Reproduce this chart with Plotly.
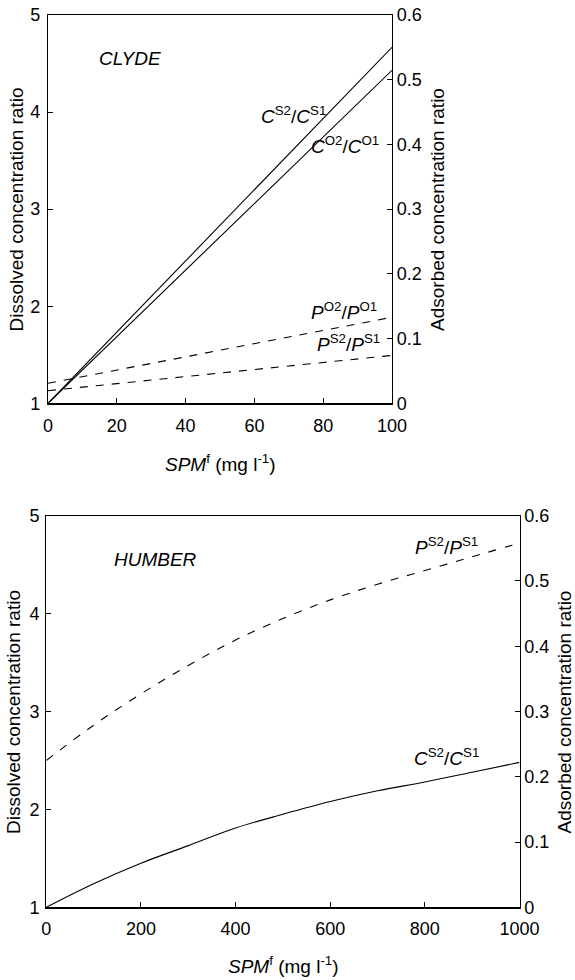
import plotly.graph_objects as go

W, H = 575, 980

# ---- CLYDE (top) data ----
clyde_x = [0, 100]
clyde_cs = [1.0, 4.667]        # C^S2/C^S1 (dissolved, left axis)
clyde_co = [1.0, 4.43]         # C^O2/C^O1 (dissolved, left axis)
clyde_po = [0.031, 0.133]      # P^O2/P^O1 (adsorbed, right axis)
clyde_ps = [0.0195, 0.074]     # P^S2/P^S1 (adsorbed, right axis)

# ---- HUMBER (bottom) data ----
humber_x = [0, 100, 200, 300, 400, 500, 600, 700, 800, 900, 1000]
humber_cs = [1.0, 1.24, 1.45, 1.63, 1.81, 1.95, 2.08, 2.19, 2.28, 2.38, 2.48]
humber_ps = [0.225, 0.279, 0.327, 0.3705, 0.4095, 0.4425, 0.471, 0.495, 0.516, 0.537, 0.558]

FONT = "Liberation Sans, Arial, Helvetica, sans-serif"
INK = "#000000"

def px_x(p):
    return p / W

def px_y(p):
    return 1 - p / H

fig = go.Figure()

line_solid = dict(color=INK, width=1.1)
line_dash = dict(color=INK, width=1.1, dash="8px,8px")

fig.add_trace(go.Scatter(x=clyde_x, y=clyde_cs, mode="lines", line=line_solid, xaxis="x", yaxis="y"))
fig.add_trace(go.Scatter(x=clyde_x, y=clyde_co, mode="lines", line=line_solid, xaxis="x", yaxis="y"))
fig.add_trace(go.Scatter(x=clyde_x, y=clyde_po, mode="lines", line=line_dash, xaxis="x", yaxis="y2"))
fig.add_trace(go.Scatter(x=clyde_x, y=clyde_ps, mode="lines", line=line_dash, xaxis="x", yaxis="y2"))

fig.add_trace(go.Scatter(x=humber_x, y=humber_cs, mode="lines", line=dict(color=INK, width=1.1, shape="spline"), xaxis="x2", yaxis="y3"))
fig.add_trace(go.Scatter(x=humber_x, y=humber_ps, mode="lines", line=dict(color=INK, width=1.1, dash="8px,9px", shape="spline"), xaxis="x2", yaxis="y4"))

tickfont = dict(family=FONT, size=18, color=INK)
common = dict(showgrid=False, zeroline=False, showline=True, linecolor=INK, linewidth=1.2,
              ticks="inside", ticklen=5, tickcolor=INK, tickwidth=1, tickfont=tickfont,
              automargin=False)

top_x_dom = [px_x(48), px_x(392)]
top_y_dom = [px_y(403.3), px_y(15)]
bot_x_dom = [px_x(46.3), px_x(519.5)]
bot_y_dom = [px_y(907.3), px_y(515.7)]

fig.update_layout(
    width=W, height=H,
    margin=dict(l=0, r=0, t=0, b=0, autoexpand=False),
    paper_bgcolor="white", plot_bgcolor="white",
    showlegend=False,
    hovermode=False,
    xaxis=dict(domain=top_x_dom, range=[0, 100], dtick=20, anchor="y", mirror=True, ticklabelstandoff=6, **common),
    yaxis=dict(domain=top_y_dom, range=[1, 5], dtick=1, anchor="x", ticklabelstandoff=3, **common),
    yaxis2=dict(range=[0, 0.6], dtick=0.1, overlaying="y", side="right", anchor="x", **common),
    xaxis2=dict(domain=bot_x_dom, range=[0, 1000], dtick=200, anchor="y3", mirror=True, ticklabelstandoff=5, **common),
    yaxis3=dict(domain=bot_y_dom, range=[1, 5], dtick=1, anchor="x2", ticklabelstandoff=2, **common),
    yaxis4=dict(range=[0, 0.6], dtick=0.1, overlaying="y3", side="right", anchor="x2", **common),
)

ann_font = dict(family=FONT, size=19, color=INK)
title_font = dict(family=FONT, size=19, color=INK)

annotations = [
    # top plot labels
    dict(x=14.3, y=4.547, xref="x", yref="y", text="<i>CLYDE</i>", xanchor="left", font=ann_font),
    dict(x=71.4, y=3.97, xref="x", yref="y", text="<i>C</i><sup>S2</sup>/<i>C</i><sup>S1</sup>", font=ann_font),
    dict(x=86.4, y=3.66, xref="x", yref="y", text="<i>C</i><sup>O2</sup>/<i>C</i><sup>O1</sup>", font=ann_font),
    dict(x=86.0, y=1.95, xref="x", yref="y", text="<i>P</i><sup>O2</sup>/<i>P</i><sup>O1</sup>", font=ann_font),
    dict(x=87.4, y=1.62, xref="x", yref="y", text="<i>P</i><sup>S2</sup>/<i>P</i><sup>S1</sup>", font=ann_font),
    # bottom plot labels
    dict(x=139, y=4.55, xref="x2", yref="y3", text="<i>HUMBER</i>", xanchor="left", font=ann_font),
    dict(x=845, y=4.69, xref="x2", yref="y3", text="<i>P</i><sup>S2</sup>/<i>P</i><sup>S1</sup>", font=ann_font),
    dict(x=846, y=2.535, xref="x2", yref="y3", text="<i>C</i><sup>S2</sup>/<i>C</i><sup>S1</sup>", font=ann_font),
    # axis titles
    dict(x=px_x(15.5), y=px_y(210), xref="paper", yref="paper", text="Dissolved concentration ratio", textangle=-90, font=title_font),
    dict(x=px_x(437), y=px_y(210), xref="paper", yref="paper", text="Adsorbed concentration ratio", textangle=-90, font=title_font),
    dict(x=px_x(220), y=px_y(463), xref="paper", yref="paper", text="<i>SPM</i><sup>f</sup> (mg l<sup>-1</sup>)", font=title_font),
    dict(x=px_x(13), y=px_y(712), xref="paper", yref="paper", text="Dissolved concentration ratio", textangle=-90, font=title_font),
    dict(x=px_x(563.5), y=px_y(712), xref="paper", yref="paper", text="Adsorbed concentration ratio", textangle=-90, font=title_font),
    dict(x=px_x(283), y=px_y(965), xref="paper", yref="paper", text="<i>SPM</i><sup>f</sup> (mg l<sup>-1</sup>)", font=title_font),
]
for a in annotations:
    a.setdefault("showarrow", False)
    a.setdefault("xanchor", "center")
    a.setdefault("yanchor", "middle")
fig.update_layout(annotations=annotations)

fig.write_html(
    "out.html",
    config={"displayModeBar": False, "staticPlot": True},
    post_script="document.body.style.margin='0';document.documentElement.style.overflow='hidden';",
)
